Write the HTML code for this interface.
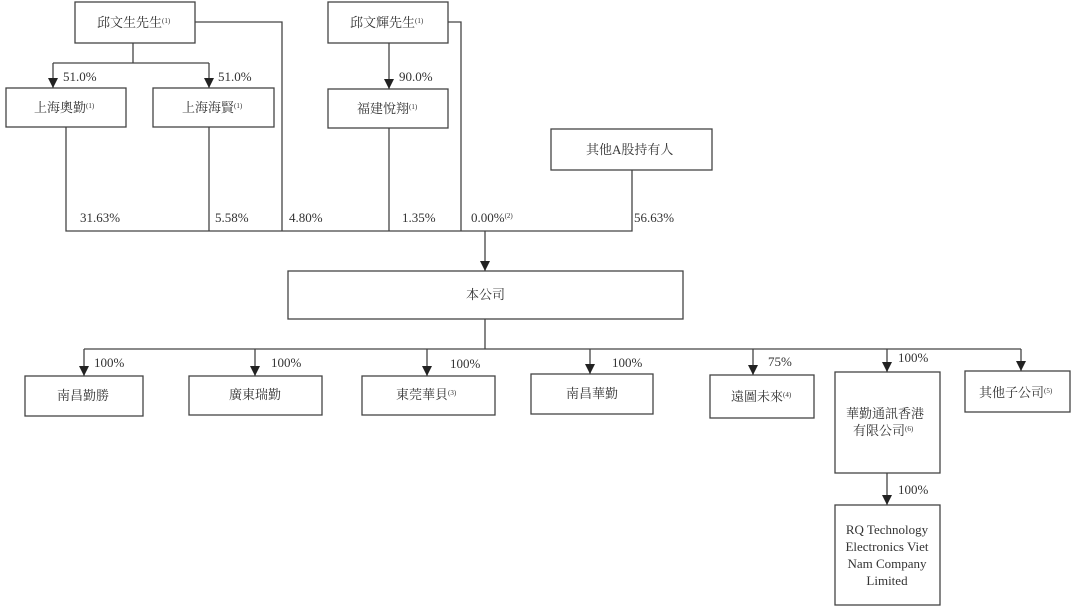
<!DOCTYPE html>
<html><head><meta charset="utf-8"><style>
html,body{margin:0;padding:0;background:#fff;}
svg{display:block;}
text{font-family:"Liberation Serif","Noto Serif CJK SC","Noto Sans CJK TC",serif;fill:#333;font-size:13px;}
.s{font-size:7px;}
</style></head><body>
<svg width="1080" height="615" viewBox="0 0 1080 615">
<defs><marker id="a" markerWidth="10" markerHeight="10" refX="10" refY="5" orient="auto" markerUnits="userSpaceOnUse"><path d="M0,0 L10,5 L0,10 Z" fill="#222"/></marker></defs>
<g fill="none" stroke="#444" stroke-width="1.3">
<rect x="75" y="2" width="120" height="41"/>
<rect x="328" y="2" width="120" height="41"/>
<rect x="6" y="88" width="120" height="39"/>
<rect x="153" y="88" width="121" height="39"/>
<rect x="328" y="89" width="120" height="39"/>
<rect x="551" y="129" width="161" height="41"/>
<rect x="288" y="271" width="395" height="48"/>
<rect x="25" y="376" width="118" height="40"/>
<rect x="189" y="376" width="133" height="39"/>
<rect x="362" y="376" width="133" height="39"/>
<rect x="531" y="374" width="122" height="40"/>
<rect x="710" y="375" width="104" height="43"/>
<rect x="835" y="372" width="105" height="101"/>
<rect x="965" y="371" width="105" height="41"/>
<rect x="835" y="505" width="105" height="100"/>
<path d="M195,22 H282 V231 M448,22 H461 V231 M66,127 V231 H632 V170 M209,127 V231 M389,128 V231"/>
<path d="M133,43 V63 H53 M133,63 H209"/>
<path d="M53,63 V88" marker-end="url(#a)"/>
<path d="M209,63 V88" marker-end="url(#a)"/>
<path d="M389,43 V89" marker-end="url(#a)"/>
<path d="M485,231 V271" marker-end="url(#a)"/>
<path d="M485,319 V349 M84,349 H1021"/>
<path d="M84,349 V376" marker-end="url(#a)"/>
<path d="M255,349 V376" marker-end="url(#a)"/>
<path d="M427,349 V376" marker-end="url(#a)"/>
<path d="M590,349 V374" marker-end="url(#a)"/>
<path d="M753,349 V375" marker-end="url(#a)"/>
<path d="M887,349 V372" marker-end="url(#a)"/>
<path d="M1021,349 V371" marker-end="url(#a)"/>
<path d="M887,473 V505" marker-end="url(#a)"/>
</g>
<text x="97" y="27">邱文生先生<tspan class="s" dy="-4">(1)</tspan></text>
<text x="350" y="27">邱文輝先生<tspan class="s" dy="-4">(1)</tspan></text>
<text x="34" y="112">上海奧勤<tspan class="s" dy="-4">(1)</tspan></text>
<text x="182" y="112">上海海賢<tspan class="s" dy="-4">(1)</tspan></text>
<text x="357" y="113">福建悅翔<tspan class="s" dy="-4">(1)</tspan></text>
<text x="586" y="154">其他A股持有人</text>
<text x="466" y="299">本公司</text>
<text x="57" y="400">南昌勤勝</text>
<text x="229" y="399">廣東瑞勤</text>
<text x="396" y="399">東莞華貝<tspan class="s" dy="-4">(3)</tspan></text>
<text x="566" y="398">南昌華勤</text>
<text x="731" y="401">遠圖未來<tspan class="s" dy="-4">(4)</tspan></text>
<text x="846" y="418">華勤通訊香港</text>
<text x="853" y="435">有限公司<tspan class="s" dy="-4">(6)</tspan></text>
<text x="979" y="397">其他子公司<tspan class="s" dy="-4">(5)</tspan></text>
<text x="887" y="534" text-anchor="middle">RQ Technology</text>
<text x="887" y="551" text-anchor="middle">Electronics Viet</text>
<text x="887" y="568" text-anchor="middle">Nam Company</text>
<text x="887" y="585" text-anchor="middle">Limited</text>
<text x="63" y="81">51.0%</text>
<text x="218" y="81">51.0%</text>
<text x="399" y="81">90.0%</text>
<text x="80" y="222">31.63%</text>
<text x="215" y="222">5.58%</text>
<text x="289" y="222">4.80%</text>
<text x="402" y="222">1.35%</text>
<text x="471" y="222">0.00%<tspan class="s" dy="-4">(2)</tspan></text>
<text x="634" y="222">56.63%</text>
<text x="94" y="367">100%</text>
<text x="271" y="367">100%</text>
<text x="450" y="368">100%</text>
<text x="612" y="367">100%</text>
<text x="768" y="366">75%</text>
<text x="898" y="362">100%</text>
<text x="898" y="494">100%</text>
</svg>
</body></html>
